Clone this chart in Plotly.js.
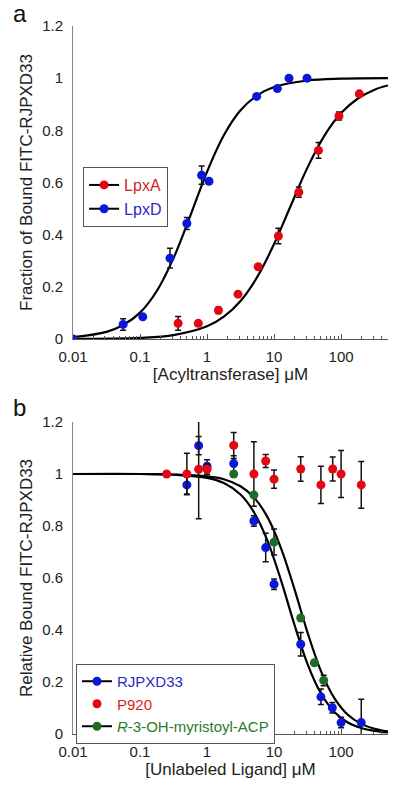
<!DOCTYPE html>
<html><head><meta charset="utf-8">
<script src="https://cdn.plot.ly/plotly-3.0.1.min.js"></script>
<style>html,body{margin:0;padding:0;background:#fff}#chart{width:400px;height:786px}</style>
</head><body><div id="chart"></div>
<script>
// ---------- Panel a data ----------
const lpxA_x   = [0.37, 0.74, 1.48, 2.9, 5.8, 11.6, 23.4, 46, 93, 187];
const lpxA_y   = [0.06, 0.06, 0.11, 0.172, 0.277, 0.395, 0.563, 0.723, 0.855, 0.94];
const lpxA_err = [0.026, 0, 0.012, 0, 0, 0.03, 0.02, 0.03, 0.015, 0];
const lpxD_x   = [0.01, 0.056, 0.11, 0.28, 0.5, 0.83, 1.07, 5.5, 11.2, 16.7, 31];
const lpxD_y   = [0.0, 0.056, 0.085, 0.31, 0.443, 0.628, 0.605, 0.93, 0.96, 1.0, 1.0];
const lpxD_err = [0, 0.022, 0, 0.038, 0.023, 0.035, 0, 0, 0, 0, 0];
// fit curves
const fitA_x = [0.01, 0.1, 0.316, 1, 1.78, 3.16, 5.62, 10, 17.8, 31.6, 56.2, 100, 178, 316, 500];
const fitA_y = [0.0004, 0.0046, 0.015, 0.0486, 0.0855, 0.146, 0.238, 0.364, 0.512, 0.658, 0.779, 0.866, 0.922, 0.956, 0.972];
const fitD_x = [0.01, 0.0316, 0.0562, 0.1, 0.178, 0.316, 0.562, 1, 1.78, 3.16, 5.62, 10, 31.6, 100, 500];
const fitD_y = [0.007, 0.0275, 0.0535, 0.101, 0.184, 0.310, 0.472, 0.641, 0.781, 0.877, 0.934, 0.966, 0.991, 0.998, 1.0];

// ---------- Panel b data ----------
const rj_x   = [0.5, 0.75, 1.0, 2.5, 5, 7.5, 10, 25, 50, 74, 100, 200];
const rj_y   = [0.958, 1.109, 1.03, 1.04, 0.819, 0.717, 0.576, 0.345, 0.143, 0.101, 0.044, 0.044];
const rj_err = [0.035, 0.035, 0.025, 0.03, 0.02, 0.055, 0.02, 0.045, 0.03, 0.02, 0.02, 0.09];
const p920_x   = [0.25, 0.5, 0.75, 1.0, 2.5, 5, 7.5, 10, 25, 50, 75, 100, 200];
const p920_y   = [1.0, 1.0, 1.018, 1.018, 1.11, 1.0, 1.05, 0.98, 1.019, 0.958, 1.019, 1.0, 0.958];
const p920_err = [0, 0.08, 0.19, 0.02, 0.05, 0.124, 0.025, 0.035, 0.047, 0.072, 0.046, 0.09, 0.09];
const acp_x   = [2.5, 5, 10, 25, 40, 55];
const acp_y   = [1.0, 0.919, 0.738, 0.446, 0.274, 0.206];
const acp_err = [0.0, 0.0, 0.05, 0.0, 0.0, 0.02];
const fitB_x = [0.01, 0.1, 0.316, 1, 1.78, 3.16, 5.01, 7.94, 12.6, 20, 31.6, 50.1, 79.4, 126, 200, 316, 500];
const fitRJ_y  = [1.0, 1.0, 0.997, 0.985, 0.965, 0.921, 0.853, 0.745, 0.594, 0.423, 0.269, 0.156, 0.085, 0.044, 0.023, 0.012, 0.006];
const fitACP_y = [1.0, 1.0, 0.998, 0.991, 0.980, 0.953, 0.910, 0.835, 0.717, 0.560, 0.390, 0.242, 0.138, 0.074, 0.039, 0.020, 0.010];

// ---------- ticks ----------
const xTickVals = [0.01, 0.1, 1, 10, 100];
const xTickText = ['0.01', '0.1', '1', '10', '100'];
const yTickVals = [0, 0.2, 0.4, 0.6, 0.8, 1, 1.2];
const yTickText = ['0', '0.2', '0.4', '0.6', '0.8', '1', '1.2'];

const RED = '#e30613', BLUE = '#0b17d6', GREEN = '#1f6b26';

// interleave nulls so legend shows line+marker but no segments join the points
function gapped(a){ const o=[]; a.forEach((v,i)=>{ if(i) o.push(null); o.push(v); }); return o; }

function dataTrace(x, y, err, color, name, xa, ya, legend, withLine){
  return {
    type:'scatter', mode: withLine ? 'lines+markers' : 'markers',
    x: gapped(x), y: gapped(y), connectgaps:false,
    xaxis: xa, yaxis: ya, legend: legend, name: name,
    line:{color:'#000', width:2},
    marker:{color:color, size:9, line:{width:0}},
    error_y:{type:'data', array: gapped(err), visible:true, color:'#111', thickness:1.5, width:3},
    hoverinfo:'skip'
  };
}
function fitTrace(x, y, xa, ya){
  return {type:'scatter', mode:'lines', x:x, y:y, xaxis:xa, yaxis:ya, showlegend:false,
    line:{color:'#000', width:2.2, shape:'spline'}, hoverinfo:'skip'};
}

const traces = [
  fitTrace(fitD_x, fitD_y, 'x', 'y'),
  fitTrace(fitA_x, fitA_y, 'x', 'y'),
  dataTrace(lpxA_x, lpxA_y, lpxA_err, RED, '<span style="color:#d41f1f">LpxA</span>', 'x', 'y', 'legend', true),
  dataTrace(lpxD_x, lpxD_y, lpxD_err, BLUE, '<span style="color:#2a2ac4">LpxD</span>', 'x', 'y', 'legend', true),
  fitTrace(fitB_x, fitRJ_y, 'x2', 'y2'),
  fitTrace(fitB_x, fitACP_y, 'x2', 'y2'),
  dataTrace(rj_x, rj_y, rj_err, BLUE, '<span style="color:#2a2ac4">RJPXD33</span>', 'x2', 'y2', 'legend2', true),
  dataTrace(p920_x, p920_y, p920_err, RED, '<span style="color:#d41f1f">P920</span>', 'x2', 'y2', 'legend2', false),
  dataTrace(acp_x, acp_y, acp_err, GREEN, '<span style="color:#2b7a2b"><i>R</i>-3-OH-myristoyl-ACP</span>', 'x2', 'y2', 'legend2', true)
];

const FONT = 'Arial, "Liberation Sans", sans-serif';
function xAxis(anchor, title){
  return {type:'log', range:[-2, 2.7], anchor:anchor, domain:[0,1],
    tickmode:'array', tickvals:xTickVals, ticktext:xTickText,
    ticks:'inside', ticklen:5, tickwidth:1, tickcolor:'#555',
    ticklabelstandoff:4,
    minor:{dtick:'D1', ticks:'inside', ticklen:3, tickwidth:1, tickcolor:'#555'},
    showline:true, linecolor:'#555', linewidth:1, showgrid:false, zeroline:false,
    tickfont:{size:15, color:'#222'},
    title:{text:title, font:{size:17, color:'#222'}, standoff:2}};
}
function yAxis(anchor, domain, title){
  return {range:[0, 1.2], anchor:anchor, domain:domain,
    tickmode:'array', tickvals:yTickVals, ticktext:yTickText, ticks:'',
    ticklabelstandoff:6,
    showline:true, linecolor:'#888', linewidth:1, showgrid:false, zeroline:false,
    tickfont:{size:15, color:'#222'},
    title:{text:title, font:{size:17, color:'#222'}, standoff:5}};
}

const layout = {
  width:400, height:786, paper_bgcolor:'#fff', plot_bgcolor:'#fff',
  margin:{l:73, r:12, t:26, b:52},
  font:{family:FONT, color:'#222'},
  showlegend:true,
  xaxis: xAxis('y', '[Acyltransferase] μM'),
  yaxis: yAxis('x', [0.5579, 1], 'Fraction of Bound FITC-RJPXD33'),
  xaxis2: xAxis('y2', '[Unlabeled Ligand] μM'),
  yaxis2: yAxis('x2', [0, 0.4407], 'Relative Bound FITC-RJPXD33'),
  legend:{x:0.032, y:0.8008, xanchor:'left', yanchor:'top', bordercolor:'#555', borderwidth:1,
    bgcolor:'#fff', font:{size:16, family:FONT}, tracegroupgap:0},
  legend2:{x:0.0095, y:0.0989, xanchor:'left', yanchor:'top', bordercolor:'#555', borderwidth:1,
    bgcolor:'#fff', font:{size:15, family:FONT}, tracegroupgap:0},
  annotations:[
    {text:'a', xref:'paper', yref:'paper', x:-0.197, y:1.017, xanchor:'left', yanchor:'middle', showarrow:false, font:{size:24, color:'#111'}},
    {text:'b', xref:'paper', yref:'paper', x:-0.197, y:0.4605, xanchor:'left', yanchor:'middle', showarrow:false, font:{size:24, color:'#111'}}
  ]
};

Plotly.newPlot('chart', traces, layout, {staticPlot:true, displayModeBar:false});
</script>
</body></html>
